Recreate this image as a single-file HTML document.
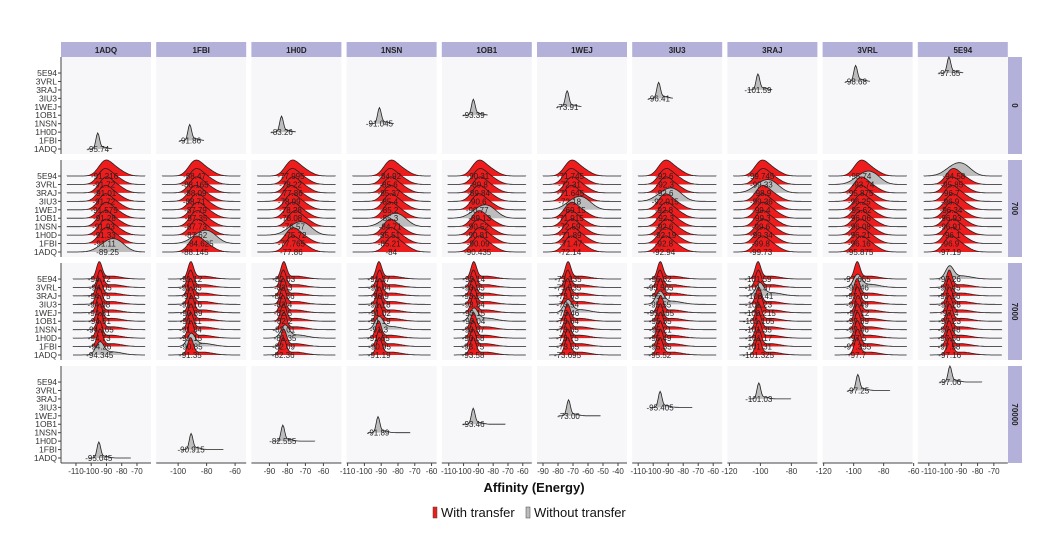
<!DOCTYPE html>
<html><head><meta charset="utf-8"><style>
body{margin:0;background:#fff;}
svg{display:block;font-family:"Liberation Sans",Arial,sans-serif;}
</style></head><body>
<svg id="chart" width="1042" height="552" viewBox="0 0 1042 552" xmlns="http://www.w3.org/2000/svg"></svg>
<script>
const proteins = ["1ADQ","1FBI","1H0D","1NSN","1OB1","1WEJ","3IU3","3RAJ","3VRL","5E94"];
const times = ["0","700","7000","70000"];
const domains = [[-119.8,-60.8],[-115.4,-52.2],[-100,-50],[-110.6,-57],[-114.7,-53.9],[-94,-34],[-114,-54],[-121.3,-63.2],[-120.7,-60.7],[-116.8,-61.4]];
const ticks = [[-110,-100,-90,-80,-70],[-100,-80,-60],[-90,-80,-70,-60],[-110,-100,-90,-80,-70,-60],[-110,-100,-90,-80,-70,-60],[-90,-80,-70,-60,-50,-40],[-110,-100,-90,-80,-70,-60],[-120,-100,-80],[-120,-100,-80,-60],[-110,-100,-90,-80,-70]];
const row0Peaks = [-95.74,-91.86,-83.26,-91.045,-93.39,-73.91,-96.41,-101.59,-98.68,-97.65];
const row3Peaks = [-95.045,-90.915,-82.555,-91.89,-93.46,-73.00,-95.405,-101.03,-97.25,-97.06];
const row1Peaks = [
 [-89.25,-91.11,-91.33,-91.93,-91.28,-91.575,-91.72,-91.01,-91.72,-91.216],
 [-88.145,-84.625,-87.62,-87.73,-87.35,-87.79,-88.71,-88.09,-88.165,-88.47],
 [-77.86,-77.765,-75.72,-76.57,-78.08,-78.28,-78.99,-77.86,-78.22,-77.995],
 [-84,-85.21,-85.51,-84.71,-85.3,-85.2,-85.4,-85.37,-85.6,-84.92],
 [-90.435,-90.09,-90.81,-90.52,-89.13,-90.77,-90.6,-89.84,-89.8,-90.31],
 [-72.14,-71.47,-71.89,-72.59,-71.915,-69.15,-72.18,-71.645,-72.31,-71.745],
 [-92.94,-92.8,-92.19,-92.6,-92.3,-92.8,-92.015,-92.6,-92.3,-92.6],
 [-99.73,-99.8,-99.34,-99.6,-99.3,-99.4,-99.36,-98.9,-99.33,-99.745],
 [-95.875,-96.16,-96.21,-96.08,-96.06,-95.62,-96.25,-95.875,-93.74,-95.74],
 [-97.19,-96.9,-96.1,-96.91,-96.93,-96.34,-96.9,-96.7,-95.85,-94.58]];
const row2Peaks = [
 [-94.345,-94.26,-94.73,-94.165,-94.51,-94.81,-94.98,-94.75,-94.05,-94.72],
 [-91.35,-90.85,-91.15,-91.34,-91.11,-90.89,-91.16,-91.3,-91.35,-91.12],
 [-82.36,-82.09,-81.35,-82.01,-82.2,-82.5,-82.4,-82.36,-82.3,-82.03],
 [-91.19,-90.95,-91.65,-91.3,-91.19,-91.02,-91.18,-90.9,-91.04,-91.37],
 [-93.58,-93.75,-93.58,-93.37,-93.04,-93.15,-93.34,-93.58,-93.35,-93.14],
 [-73.695,-73.55,-73.75,-73.65,-73.64,-73.46,-73.54,-73.63,-73.535,-73.335],
 [-95.52,-95.35,-95.49,-95.21,-95.35,-95.165,-95.55,-95.27,-95.565,-95.32],
 [-101.325,-101.31,-101.17,-101.35,-101.105,-100.215,-101.23,-100.41,-101.37,-101.59],
 [-97.7,-97.355,-97.5,-97.46,-97.39,-97.12,-97.49,-97.76,-97.46,-97.655],
 [-97.16,-97.58,-97.56,-97.48,-97.23,-97.4,-97.28,-97.56,-97.45,-97.26]];

const svg=document.getElementById('chart');
const NS='http://www.w3.org/2000/svg';
function mk(t,a,p){const e=document.createElementNS(NS,t);for(const k in a)e.setAttribute(k,a[k]);(p||svg).appendChild(e);return e;}
const PX0=61,PW=90,PSTEP=95.2,PT=[57,160,263,366],PH=97;
const RED='#ee1c1c',GRAY='#bdbdbd';
const labelsLater=[];
function xs(c,v){const d=domains[c];return PX0+c*PSTEP+(v-d[0])/(d[1]-d[0])*PW;}
function ys(r,j){return PT[r]+PH-5-j*8.44;}
function ridge(c,r,j,peak,fill,kind){
  const x0=PX0+c*PSTEP;const base=ys(r,j);
  let a,b,sd,H,tailAmp,tailOff,tailSd;
  if(kind==='broad'){a=x0+6;b=x0+84;sd=6.5;H=15;tailAmp=0.55;tailOff=11;tailSd=8;}
  else if(kind==='mid'){a=x0+12;b=x0+84;sd=2.8;H=17;tailAmp=0.18;tailOff=12;tailSd=10;}
  else {a=xs(c,peak)-10;b=xs(c,peak)+(r===3?32:14);sd=1.8;H=16;tailAmp=0.12;tailOff=6;tailSd=4;}
  if(fill===GRAY&&kind!=='narrow'){sd*=1.4;H*=0.75;tailAmp*=1.5;}
  const px=xs(c,peak);let d='M'+a.toFixed(1)+','+base;
  for(let x=a;x<=b;x+=1){
    const y=Math.exp(-0.5*((x-px)/sd)**2)+tailAmp*Math.exp(-0.5*((x-px-tailOff)/tailSd)**2);
    d+=' L'+x.toFixed(1)+','+(base-H*y/(1+tailAmp*0.3)).toFixed(1);}
  d+=' L'+b.toFixed(1)+','+base;
  const g=mk('g',{});
  
  
  mk('path',{d:d+' Z',fill:fill,stroke:'none'},g);
  mk('path',{d:d,fill:'none',stroke:'#222','stroke-width':0.8},g);
  const lbl=(r===3&&Number.isInteger(peak))?peak.toFixed(2):String(peak);
  labelsLater.push([px,base+3,lbl]);
}
for(let c=0;c<10;c++){
  const x0=PX0+c*PSTEP;
  const s=mk('rect',{x:x0,y:42,width:PW,height:15,fill:'#b3b1da'});
  
  const st=mk('text',{x:x0+PW/2,y:53,'font-size':8,'font-weight':'bold','text-anchor':'middle',fill:'#222'});st.textContent=proteins[c];
  for(let r=0;r<4;r++){
    const p=mk('rect',{x:x0,y:PT[r],width:PW,height:PH,fill:'#f7f7fa'});
    
  }
  mk('line',{x1:x0,x2:x0+PW,y1:463,y2:463,stroke:'#444','stroke-width':1});
  ticks[c].forEach(v=>{const x=xs(c,v);mk('line',{x1:x,x2:x,y1:463,y2:466,stroke:'#444'});
    const t=mk('text',{x:x,y:474,'font-size':8,'text-anchor':'middle',fill:'#333'});t.textContent=v;
    });
  ridge(c,0,c,row0Peaks[c],GRAY,'narrow');
  for(let j=9;j>=0;j--) ridge(c,1,j,row1Peaks[c][j],j===c?GRAY:RED,'broad');
  for(let j=9;j>=0;j--) ridge(c,2,j,row2Peaks[c][j],j===c?GRAY:RED,'mid');
  ridge(c,3,c,row3Peaks[c],GRAY,'narrow');
}
labelsLater.forEach(l=>{const t=mk('text',{x:l[0].toFixed(1),y:l[1],'font-size':8,'text-anchor':'middle',fill:'#222'});t.textContent=l[2];
  });
for(let r=0;r<4;r++){
  const s=mk('rect',{x:1008,y:PT[r],width:14,height:PH,fill:'#b3b1da'});
  
  const cy=PT[r]+PH/2;const t=mk('text',{x:1015,y:cy,'font-size':8,'font-weight':'bold','text-anchor':'middle',fill:'#222',transform:'rotate(90 1015 '+cy+') translate(0 3)'});t.textContent=times[r];
  mk('line',{x1:61,x2:61,y1:PT[r],y2:PT[r]+PH,stroke:'#444'});
  for(let j=0;j<10;j++){const y=ys(r,j);mk('line',{x1:58,x2:61,y1:y,y2:y,stroke:'#444'});
    const t=mk('text',{x:57,y:y+3,'font-size':8.5,'text-anchor':'end',fill:'#333'});t.textContent=proteins[j];
    }
}
const title=mk('text',{x:534,y:492,'font-size':13,'font-weight':'bold','text-anchor':'middle',fill:'#111'});title.textContent='Affinity (Energy)';

const l1=mk('g',{});
mk('rect',{x:433,y:507,width:4,height:11,fill:RED,stroke:'#444','stroke-width':0.5},l1);
const lt1=mk('text',{x:441,y:517,'font-size':13,fill:'#111'},l1);lt1.textContent='With transfer';
const l2=mk('g',{});
mk('rect',{x:526,y:507,width:4,height:11,fill:GRAY,stroke:'#444','stroke-width':0.5},l2);
const lt2=mk('text',{x:534,y:517,'font-size':13,fill:'#111'},l2);lt2.textContent='Without transfer';
</script>
</body></html>
